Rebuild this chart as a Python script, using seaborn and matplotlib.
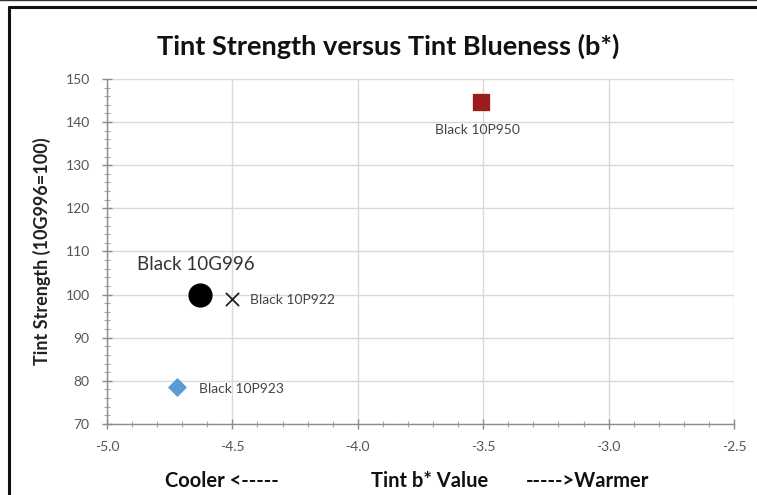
import numpy as np
import pandas as pd
import matplotlib
matplotlib.use("Agg")
import matplotlib.pyplot as plt
import seaborn as sns
from matplotlib.ticker import MultipleLocator
from matplotlib.lines import Line2D

# ---------------- ДАНІ ---------------- #

names = ["Black 10G996", "Black 10P922", "Black 10P923", "Black 10P950"]
b_values = [-4.63, -4.50, -4.72, -3.51]
strength = [100.0, 99.0, 78.5, 144.6]
markers = ["o", "X", "D", "s"]
colors = ["#000000", "#222222", "#5b9bd5", "#9b1c1c"]
sizes = [260, 90, 80, 140]

x_ticks = [-5.0, -4.5, -4.0, -3.5, -3.0, -2.5]
y_ticks = [70, 80, 90, 100, 110, 120, 130, 140, 150]

df = pd.DataFrame({"name": names, "b": b_values, "strength": strength})

# ---------------- СТИЛЬ ---------------- #

sns.set_style("whitegrid")
plt.rcParams['font.family'] = ['Lato', 'DejaVu Sans']

fig = plt.figure(figsize=(7.57, 4.95), dpi=100)
ax = fig.add_axes([107 / 757, 1 - 424 / 495, 627 / 757, 345 / 495])

for i, row in df.iterrows():
    if markers[i] == "X":
        ax.scatter(row["b"], row["strength"], marker="x", s=sizes[i],
                   color=colors[i], linewidths=1.3, zorder=3)
    else:
        sns.scatterplot(x=[row["b"]], y=[row["strength"]], marker=markers[i],
                        s=sizes[i], color=colors[i], edgecolor=colors[i],
                        ax=ax, zorder=3, legend=False)

ax.set_xlim(-5.0, -2.5)
ax.set_ylim(70, 150)
ax.set_xticks(x_ticks)
ax.set_yticks(y_ticks)
ax.set_xticklabels([f"{v:.1f}" for v in x_ticks])
ax.xaxis.set_minor_locator(MultipleLocator(0.1))
ax.yaxis.set_minor_locator(MultipleLocator(2))

ax.grid(True, which="major", color="#d9d9d9", linewidth=1.0)
ax.grid(False, which="minor")
for side in ["top", "right"]:
    ax.spines[side].set_visible(False)
for side in ["left", "bottom"]:
    ax.spines[side].set_color("#8c8c8c")
    ax.spines[side].set_linewidth(1.0)

ax.tick_params(which="both", bottom=True, left=True, direction="inout",
               color="#8c8c8c", labelcolor="#555555", labelsize=10)
ax.tick_params(which="major", length=7, width=1)
ax.tick_params(which="minor", length=4, width=0.8, color="#a6a6a6")
ax.tick_params(axis="x", which="major", pad=9)
ax.tick_params(axis="y", which="major", pad=9)
ax.set_xlabel("")
ax.set_ylabel("Tint Strength (10G996=100)", fontsize=13, fontweight="bold",
              color="#222222", labelpad=10)

# ---------------- ПІДПИСИ ТОЧОК ---------------- #

ax.annotate(names[0], (b_values[0], strength[0]), xytext=(-45, 22),
            textcoords="offset points", fontsize=13.5, color="#333333", va="center")
ax.annotate(names[1], (b_values[1], strength[1]), xytext=(13, -1),
            textcoords="offset points", fontsize=10, color="#444444", va="center")
ax.annotate(names[2], (b_values[2], strength[2]), xytext=(16, -1.5),
            textcoords="offset points", fontsize=10, color="#444444", va="center")
ax.annotate(names[3], (b_values[3], strength[3]), xytext=(-2, -20),
            textcoords="offset points", fontsize=10, color="#444444",
            ha="center", va="center")

# ---------------- ЗАГОЛОВОК / ОСІ ---------------- #

fig.text(388 / 757, 1 - 46 / 495, "Tint Strength versus Tint Blueness (b*)",
         ha="center", va="center", fontsize=19.5, fontweight="bold", color="#111111")
fig.text(222 / 757, 1 - 481 / 495, "Cooler <-----", ha="center", va="center",
         fontsize=14.5, fontweight="bold", color="#111111")
fig.text(430 / 757, 1 - 481 / 495, "Tint b* Value", ha="center", va="center",
         fontsize=14.5, fontweight="bold", color="#111111")
fig.text(588 / 757, 1 - 481 / 495, "----->Warmer", ha="center", va="center",
         fontsize=14.5, fontweight="bold", color="#111111")

# рамка діаграми
fig.add_artist(Line2D([9 / 757, 1.0], [1 - 7 / 495, 1 - 7 / 495], color="#111111",
                      linewidth=2.2, transform=fig.transFigure))
fig.add_artist(Line2D([9 / 757, 9 / 757], [0.0, 1 - 7 / 495], color="#111111",
                      linewidth=2.2, transform=fig.transFigure))
fig.add_artist(Line2D([0.0, 1.0], [0.999, 0.999], color="#333333",
                      linewidth=1.0, transform=fig.transFigure))

fig.savefig("out.png", dpi=100)
plt.close()
